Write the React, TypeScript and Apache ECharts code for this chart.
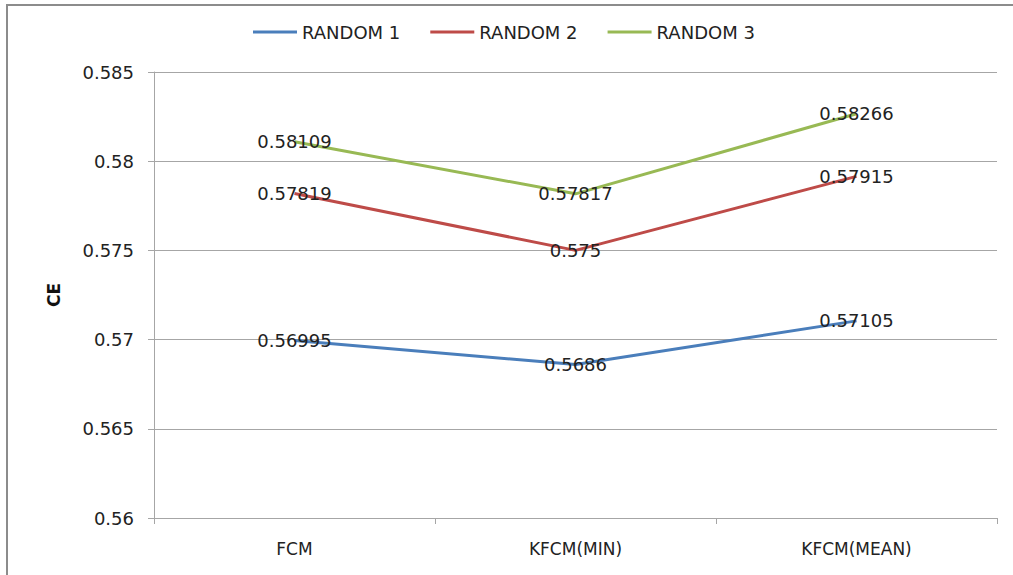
import React, { useEffect, useRef } from "react";
import * as echarts from "echarts";

const categories = ["FCM", "KFCM(MIN)", "KFCM(MEAN)"];
const random1 = [0.56995, 0.5686, 0.57105];
const random2 = [0.57819, 0.575, 0.57915];
const random3 = [0.58109, 0.57817, 0.58266];
const seriesNames = ["RANDOM 1", "RANDOM 2", "RANDOM 3"];
const colors = ["#4a7ebb", "#be4b48", "#98b954"];
const yMin = 0.56;
const yMax = 0.585;
const yStep = 0.005;

const FONT = "DejaVu Sans";

export default function App() {
  const ref = useRef<HTMLDivElement>(null);
  useEffect(() => {
    document.body.style.margin = "0";
    if (!ref.current) return;
    const chart = echarts.init(ref.current, undefined, { renderer: "svg" });
    const data = [random1, random2, random3];
    chart.setOption({
      animation: false,
      backgroundColor: "#ffffff",
      textStyle: { fontFamily: FONT },
      graphic: [
        { type: "rect", shape: { x: 6, y: 4, width: 2, height: 575 }, style: { fill: "#8c8c8c" } },
        { type: "rect", shape: { x: 6, y: 4, width: 1013, height: 2 }, style: { fill: "#8c8c8c" } },
      ],
      legend: {
        top: 23,
        left: 253,
        padding: 0,
        icon: "rect",
        itemWidth: 44,
        itemHeight: 3,
        itemGap: 30,
        textStyle: { fontFamily: FONT, fontSize: 18, color: "#222" },
        data: seriesNames,
      },
      grid: { left: 154, right: 16, top: 72, bottom: 57 },
      xAxis: {
        type: "category",
        data: categories,
        boundaryGap: true,
        axisLine: { lineStyle: { color: "#a6a6a6", width: 1 } },
        axisTick: { show: true, length: 6, lineStyle: { color: "#a6a6a6" } },
        axisLabel: { fontFamily: FONT, fontSize: 17, color: "#222", margin: 22 },
      },
      yAxis: {
        type: "value",
        min: yMin,
        max: yMax,
        interval: yStep,
        name: "CE",
        nameLocation: "middle",
        nameGap: 92,
        nameTextStyle: { fontFamily: FONT, fontSize: 17, fontWeight: "bold", color: "#111" },
        axisLine: { show: true, lineStyle: { color: "#a6a6a6", width: 1 } },
        axisTick: { show: true, length: 6, lineStyle: { color: "#a6a6a6" } },
        axisLabel: { fontFamily: FONT, fontSize: 18, color: "#222", margin: 20 },
        splitLine: { show: true, lineStyle: { color: "#a6a6a6", width: 1 } },
      },
      series: seriesNames.map((name, i) => ({
        name,
        type: "line",
        data: data[i],
        symbol: "circle",
        symbolSize: 0,
        color: colors[i],
        lineStyle: { color: colors[i], width: 3 },
        label: {
          show: true,
          position: "inside",
          fontFamily: FONT,
          fontSize: 18,
          color: "#222",
          formatter: (p: any) => String(p.value),
        },
      })),
    });
    return () => chart.dispose();
  }, []);
  return <div ref={ref} style={{ width: 1013, height: 575 }} />;
}
